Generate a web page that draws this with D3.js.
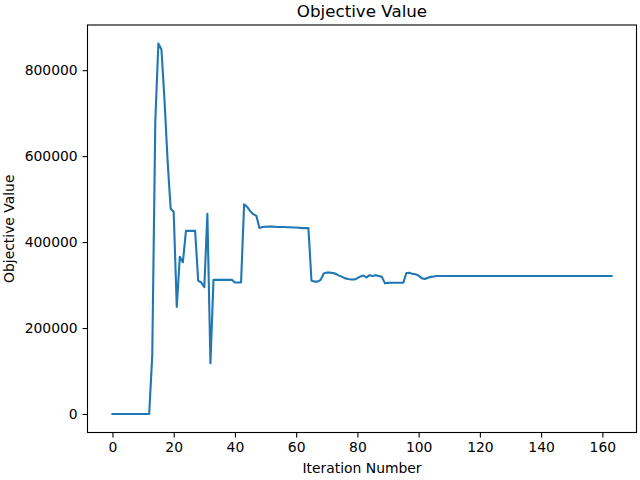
<!DOCTYPE html>
<html>
<head>
<meta charset="utf-8">
<script src="https://cdn.jsdelivr.net/npm/d3@7"></script>
<style>
  body { margin: 0; background: #fff; }
  text { font-family: "DejaVu Sans", sans-serif; fill: #000; }
</style>
</head>
<body>
<div id="chart"></div>
<script>
// objective value per iteration (0..163)
const objectiveValues = [
  0, 0, 0, 0, 0, 0, 0, 0, 0, 0, 0, 0, 0,
  137000, 683000, 862000, 848000, 730000, 590000, 478000, 470000,
  249000, 366000, 353000, 426000, 426000, 426000, 426000,
  310000, 306000, 295000, 466000, 118000,
  312000, 312000, 312000, 312000, 312000, 312000, 312000,
  306000, 306000, 306000,
  488000, 482000, 472000, 465000, 461000, 433000,
  435000, 435500, 436000, 436000, 435500, 435000, 435000, 435000,
  434500, 434500, 434000, 434000, 433500, 432500, 432500, 432500,
  310000, 308000, 308000, 312000,
  327000, 329000, 329000, 328000, 326000, 322000, 319000, 315500, 314000,
  313000, 313000, 316000, 320000, 322000, 318000, 323000, 321000, 323000,
  321000, 319000, 304000, 305000, 305500, 305500, 305500, 305500, 305500,
  328000, 328500, 326000, 325000, 322000, 316000, 314000, 317000, 319000,
  320000, 321000
];
// remaining iterations stay flat
const flatTail = 321000;
const lastIteration = 163;

const xTicks = [0, 20, 40, 60, 80, 100, 120, 140, 160];
const yTicks = [0, 200000, 400000, 600000, 800000];

const titleText = "Objective Value";
const xLabel = "Iteration Number";
const yLabel = "Objective Value";

const W = 640, H = 480;
const margin = {top: 25, right: 3.5, bottom: 47.5, left: 87.5};
const width = W - margin.left - margin.right;
const height = H - margin.top - margin.bottom;

const data = d3.range(lastIteration + 1).map(i => ({
  it: i,
  v: i < objectiveValues.length ? objectiveValues[i] : flatTail
}));

const svg = d3.select("#chart").append("svg")
  .attr("width", W).attr("height", H);

const g = svg.append("g")
  .attr("transform", `translate(${margin.left},${margin.top})`);

const xPad = lastIteration * 0.05;
const x = d3.scaleLinear()
  .domain([-xPad, lastIteration + xPad])
  .range([0, width]);

const yMax = d3.max(data, d => d.v);
const yPad = yMax * 0.05;
const y = d3.scaleLinear()
  .domain([-yPad, yMax + yPad])
  .range([height, 0]);

const line = d3.line()
  .x(d => x(d.it))
  .y(d => y(d.v));

g.append("path")
  .datum(data)
  .attr("fill", "none")
  .attr("stroke", "#1f77b4")
  .attr("stroke-width", 2.1)
  .attr("stroke-linejoin", "round")
  .attr("stroke-linecap", "square")
  .attr("d", line);

// axes
const xAxis = g.append("g")
  .attr("transform", `translate(0,${height})`)
  .call(d3.axisBottom(x).tickValues(xTicks).tickSize(4.9).tickPadding(4.9).tickFormat(d3.format("d")));

const yAxis = g.append("g")
  .call(d3.axisLeft(y).tickValues(yTicks).tickSize(4.9).tickPadding(4.9).tickFormat(d3.format("d")));

[xAxis, yAxis].forEach(a => {
  a.select(".domain").remove();
  a.selectAll(".tick line").attr("stroke", "#000").attr("stroke-width", 1.1);
  a.selectAll(".tick text")
    .attr("font-family", "DejaVu Sans")
    .attr("font-size", "13.9px")
    .attr("fill", "#000");
});

// frame
g.append("rect")
  .attr("width", width).attr("height", height)
  .attr("fill", "none")
  .attr("stroke", "#000")
  .attr("stroke-width", 1.1);

g.append("text")
  .attr("x", width / 2)
  .attr("y", -8.5)
  .attr("text-anchor", "middle")
  .attr("font-size", "16.7px")
  .text(titleText);

g.append("text")
  .attr("x", width / 2)
  .attr("y", height + 40.5)
  .attr("text-anchor", "middle")
  .attr("font-size", "13.9px")
  .text(xLabel);

g.append("text")
  .attr("transform", "rotate(-90)")
  .attr("x", -height / 2)
  .attr("y", -74)
  .attr("text-anchor", "middle")
  .attr("font-size", "13.9px")
  .text(yLabel);
</script>
</body>
</html>
